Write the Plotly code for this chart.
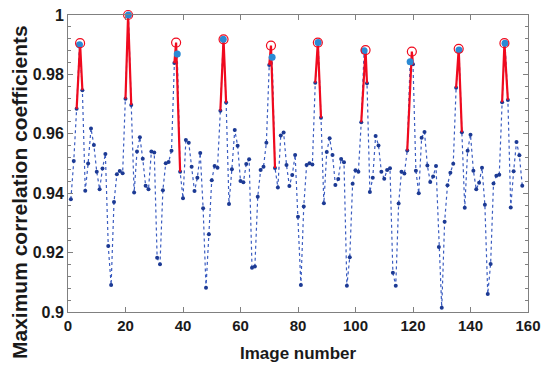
import plotly.graph_objects as go

image_number = list(range(1, 159))
max_corr = [
    0.9380, 0.9508, 0.9684, 0.9900, 0.9747, 0.9408, 0.9500, 0.9618, 0.9562, 0.9472,
    0.9413, 0.9483, 0.9532, 0.9222, 0.9091, 0.9370, 0.9464, 0.9475, 0.9467, 0.9718,
    1.0000, 0.9697, 0.9402, 0.9540, 0.9588, 0.9516, 0.9425, 0.9413, 0.9540, 0.9537,
    0.9183, 0.9161, 0.9410, 0.9501, 0.9505, 0.9543, 0.9838, 0.9869, 0.9472, 0.9383,
    0.9579, 0.9570, 0.9489, 0.9407, 0.9452, 0.9535, 0.9349, 0.9082, 0.9262, 0.9444,
    0.9492, 0.9486, 0.9678, 0.9918, 0.9705, 0.9364, 0.9481, 0.9613, 0.9560, 0.9441,
    0.9437, 0.9498, 0.9514, 0.9149, 0.9153, 0.9388, 0.9478, 0.9489, 0.9570, 0.9832,
    0.9858, 0.9485, 0.9419, 0.9594, 0.9604, 0.9495, 0.9424, 0.9461, 0.9529, 0.9321,
    0.9091, 0.9355, 0.9495, 0.9501, 0.9497, 0.9772, 0.9907, 0.9654, 0.9366, 0.9539,
    0.9585, 0.9529, 0.9428, 0.9448, 0.9515, 0.9504, 0.9088, 0.9184, 0.9432, 0.9477,
    0.9472, 0.9639, 0.9880, 0.9770, 0.9404, 0.9452, 0.9593, 0.9561, 0.9472, 0.9449,
    0.9478, 0.9484, 0.9132, 0.9088, 0.9365, 0.9472, 0.9466, 0.9544, 0.9843, 0.9834,
    0.9476, 0.9400, 0.9587, 0.9606, 0.9493, 0.9438, 0.9456, 0.9492, 0.9219, 0.9014,
    0.9304, 0.9427, 0.9469, 0.9499, 0.9755, 0.9882, 0.9605, 0.9351, 0.9543, 0.9597,
    0.9476, 0.9413, 0.9435, 0.9486, 0.9361, 0.9061, 0.9162, 0.9433, 0.9459, 0.9462,
    0.9706, 0.9905, 0.9714, 0.9352, 0.9474, 0.9572, 0.9528, 0.9425,
]

peak_images = [4, 21, 38, 54, 71, 87, 103, 119, 136, 152]
fit_x = [4.2, 20.9, 37.6, 54.1, 70.6, 86.9, 103.5, 119.6, 135.9, 151.8]
fit_y = [0.9905, 1.0000, 0.9907, 0.9918, 0.9897, 0.9907, 0.9882, 0.9877, 0.9886, 0.9905]

y_ticks = [0.9, 0.92, 0.94, 0.96, 0.98, 1.0]
y_tick_labels = ["0.9", "0.92", "0.94", "0.96", "0.98", "1"]
x_ticks = [0, 20, 40, 60, 80, 100, 120, 140, 160]
x_tick_labels = ["0", "20", "40", "60", "80", "100", "120", "140", "160"]

lookup = dict(zip(image_number, max_corr))

# red segments through neighbours and the fitted peak
red_x, red_y = [], []
for p, fx, fy in zip(peak_images, fit_x, fit_y):
    red_x += [p - 1, fx, p + 1, None]
    red_y += [lookup[p - 1], fy, lookup[p + 1], None]

fig = go.Figure()
fig.add_trace(go.Scatter(
    x=image_number, y=max_corr, mode="lines+markers",
    line=dict(color="#3a5cc0", width=1.2, dash="dot"),
    marker=dict(color="#1c3a94", size=4),
    cliponaxis=False, showlegend=False,
))
fig.add_trace(go.Scatter(
    x=red_x, y=red_y, mode="lines",
    line=dict(color="#f00a1e", width=2.2),
    cliponaxis=False, showlegend=False,
))
fig.add_trace(go.Scatter(
    x=peak_images, y=[lookup[p] for p in peak_images], mode="markers",
    marker=dict(color="#2a8ad4", size=7, line=dict(width=0)),
    cliponaxis=False, showlegend=False,
))
fig.add_trace(go.Scatter(
    x=fit_x, y=fit_y, mode="markers",
    marker=dict(color="#f00a1e", size=9, symbol="circle-open",
                line=dict(color="#f00a1e", width=1.2)),
    cliponaxis=False, showlegend=False,
))

fam = "Liberation Sans, Arial, sans-serif"
fig.update_layout(
    width=542, height=354,
    margin=dict(l=60, r=22, t=7, b=50),
    paper_bgcolor="white", plot_bgcolor="white",
    font=dict(family=fam, color="#1a1a1a"),
    xaxis=dict(
        range=[0, 160], tickvals=x_ticks, ticktext=["<b>%s</b>" % t for t in x_tick_labels],
        ticks="inside", ticklen=5, ticklabeloverflow="allow",
        tickcolor="#808080", showline=True, linecolor="#808080", linewidth=1,
        mirror="ticks", showgrid=False, zeroline=False, automargin=False,
        tickfont=dict(size=15, family=fam, color="#1a1a1a"),
    ),
    yaxis=dict(
        range=[0.9, 1.0], tickvals=y_ticks, ticktext=["<b>%s</b>" % t for t in y_tick_labels],
        ticks="inside", ticklen=5, ticklabeloverflow="allow",
        tickcolor="#808080", showline=True, linecolor="#808080", linewidth=1,
        mirror="ticks", showgrid=False, zeroline=False, automargin=False,
        minor=dict(dtick=0.004, ticks="inside", ticklen=3, tickcolor="#808080", showgrid=False),
        tickfont=dict(size=16, family=fam, color="#1a1a1a"),
    ),
    annotations=[
        dict(text="<b>Image number</b>", xref="paper", yref="paper",
             x=0.5, y=-(353 - 312) / 297, xanchor="center", yanchor="middle",
             showarrow=False, font=dict(size=17, color="#1a1a1a")),
        dict(text="<b>Maximum correlation coefficients</b>", xref="paper", yref="paper",
             x=(19 - 68) / 460, y=(312 - 192) / 297, xanchor="center", yanchor="middle",
             textangle=-90, showarrow=False, font=dict(size=21, color="#1a1a1a")),
    ],
)

fig.write_html("out.html")
